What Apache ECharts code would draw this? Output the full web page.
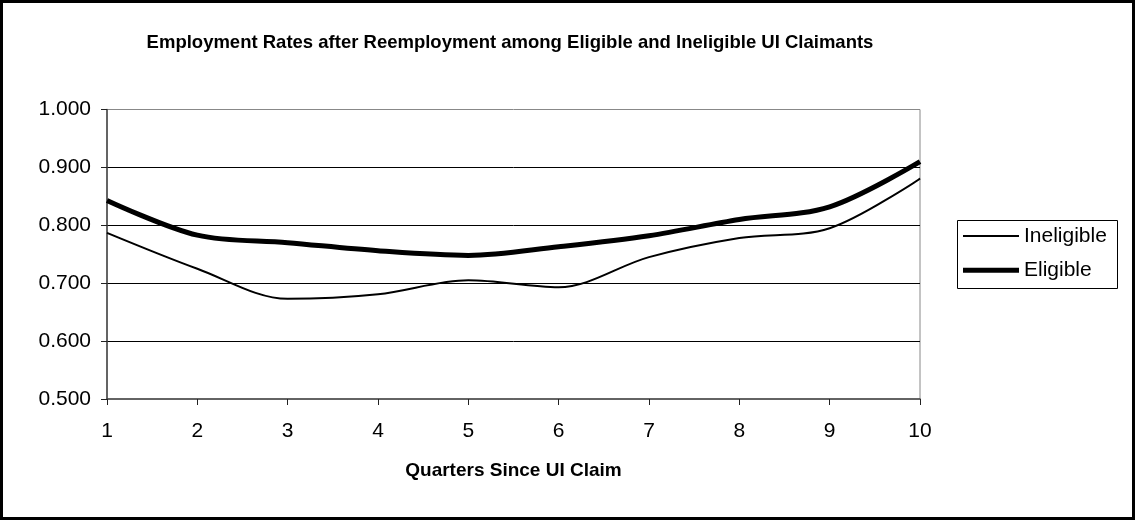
<head> </head>

<body style="margin: 0">
  <div id="main" style="width: 1136px; height: 521px"></div>
  <script src="https://cdn.jsdelivr.net/npm/echarts@6/dist/echarts.min.js"></script>
  <script>
    // quarters since claim
    var quarters = ["1", "2", "3", "4", "5", "6", "7", "8", "9", "10"];
    // employment rates
    var ineligible = [0.787, 0.725, 0.673, 0.681, 0.705, 0.693, 0.745, 0.778, 0.795, 0.881];
    var eligible = [0.843, 0.783, 0.770, 0.756, 0.748, 0.763, 0.782, 0.810, 0.832, 0.910];

    var font = "Arial, 'Liberation Sans', sans-serif";
    var myChart = echarts.init(document.getElementById("main"));
    var option = {
      backgroundColor: "#fff",
      animation: false,
      textStyle: { fontFamily: font },
      title: {
        text: "Employment Rates after Reemployment among Eligible and Ineligible UI Claimants",
        left: 505,
        textAlign: "center",
        top: 22,
        textStyle: { fontSize: 18.5, fontWeight: "bold", color: "#000", fontFamily: font },
      },
      graphic: [
        {
          type: "rect",
          shape: { x: 1.5, y: 1.5, width: 1132, height: 517 },
          style: { fill: "none", stroke: "#000", lineWidth: 3 },
          silent: true,
        },
        {
          // legend frame
          type: "rect",
          shape: { x: 957.5, y: 220.5, width: 160, height: 68 },
          style: { fill: "none", stroke: "#000", lineWidth: 1 },
          silent: true,
        },
      ],
      legend: {
        orient: "vertical",
        left: 957,
        top: 218,
        padding: [0, 0, 0, 6],
        itemGap: -2,
        itemWidth: 56,
        itemHeight: 14,
        textStyle: { fontSize: 21, color: "#000", fontFamily: font },
        data: [
          { name: "Ineligible", icon: "path://M0,0h56v2h-56z" },
          { name: "Eligible", icon: "path://M0,0h56v5h-56z" },
        ],
      },
      grid: {
        left: 107,
        right: 216,
        top: 109.5,
        bottom: 122,
        show: true,
        borderColor: "#888",
        borderWidth: 1,
      },
      xAxis: {
        type: "category",
        boundaryGap: false,
        data: quarters,
        axisLine: { lineStyle: { color: "#444", width: 1.5 } },
        axisTick: { show: true, length: 6, lineStyle: { color: "#222" } },
        axisLabel: { fontSize: 21, color: "#000", margin: 14 },
        name: "Quarters Since UI Claim",
        nameLocation: "middle",
        nameGap: 51,
        nameTextStyle: { fontSize: 19, fontWeight: "bold", color: "#000" },
      },
      yAxis: {
        type: "value",
        min: 0.5,
        max: 1.0,
        interval: 0.1,
        axisLine: { show: true, lineStyle: { color: "#444", width: 1.5 } },
        axisTick: { show: true, length: 6, lineStyle: { color: "#222" } },
        axisLabel: {
          fontSize: 21,
          color: "#000",
          margin: 16,
          formatter: function (v) {
            return v.toFixed(3);
          },
        },
        splitLine: {
          show: true,
          showMinLine: false,
          showMaxLine: false,
          lineStyle: { color: "#000", width: 1 },
        },
      },
      series: [
        {
          name: "Ineligible",
          type: "line",
          data: ineligible,
          smooth: 0.33,
          symbol: "none",
          lineStyle: { color: "#000", width: 2 },
          itemStyle: { color: "#000" },
        },
        {
          name: "Eligible",
          type: "line",
          data: eligible,
          smooth: 0.33,
          symbol: "none",
          lineStyle: { color: "#000", width: 5 },
          itemStyle: { color: "#000" },
        },
      ],
    };
    myChart.setOption(option);
  </script>
</body>
